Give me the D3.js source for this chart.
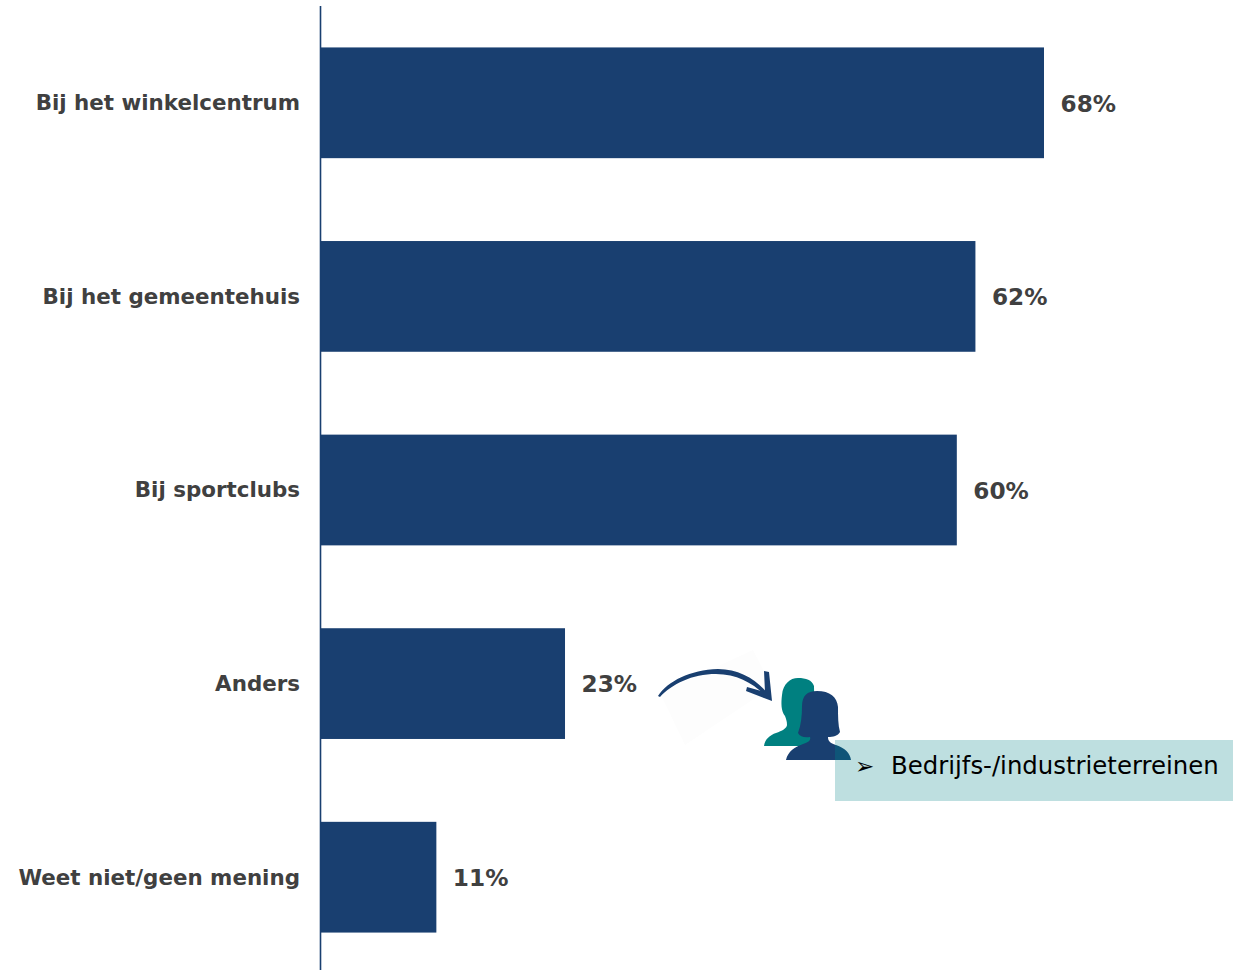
<!DOCTYPE html>
<html><head><meta charset="utf-8">
<script src="https://cdnjs.cloudflare.com/ajax/libs/d3/7.8.5/d3.min.js"></script>
<style>html,body{margin:0;padding:0;background:#fff}svg{display:block}text{font-family:"DejaVu Sans",Verdana,sans-serif}</style>
</head><body><div id="c"></div>
<script>
const categories=["Bij het winkelcentrum","Bij het gemeentehuis","Bij sportclubs","Anders","Weet niet/geen mening"];
const values=[68,61.55,59.8,22.95,10.85];
const valueLabels=["68%","62%","60%","23%","11%"];
const noteBullet="➢";
const noteText="Bedrijfs-/industrieterreinen";
const W=1233,H=970;
const navy="#193F70",grey="#404040";
const svg=d3.select("#c").append("svg").attr("width",W).attr("height",H);
const x=d3.scaleLinear().domain([0,68]).range([321,1044]);
const y=d3.scaleBand().domain(categories).range([6,974]).paddingInner(0.428).paddingOuter(0.214);
svg.selectAll("rect.bar").data(categories).join("rect").attr("class","bar")
 .attr("x",x(0)).attr("y",d=>y(d)).attr("height",y.bandwidth())
 .attr("width",(d,i)=>x(values[i])-x(0)).attr("fill",navy);
svg.append("line").attr("x1",320.5).attr("x2",320.5).attr("y1",6).attr("y2",970).attr("stroke",navy).attr("stroke-width",1.6);
svg.selectAll("text.cat").data(categories).join("text").attr("class","cat")
 .attr("x",300).attr("y",d=>y(d)+y.bandwidth()/2-0.4).attr("dy","0.36em").attr("text-anchor","end")
 .attr("font-size",21.4).attr("font-weight",700).attr("fill",grey).text(d=>d);
svg.selectAll("text.val").data(categories).join("text").attr("class","val")
 .attr("x",(d,i)=>x(values[i])+16.5).attr("y",d=>y(d)+y.bandwidth()/2+0.4).attr("dy","0.36em")
 .attr("font-size",23.2).attr("font-weight",700).attr("fill",grey).text((d,i)=>valueLabels[i]);
// decoration: faint image backing and hand drawn arrow
svg.append("path").attr("d","M660 693L753 650L772 687L685 745Z").attr("fill","#fdfdfd");
svg.append("path").attr("d","M658 696C668 681 690 670 718 669C740 669 757 680 769 695L767 697C754 684 738 674 716 674C692 674 672 684 660 697Z").attr("fill",navy);
svg.append("path").attr("d","M764 671L769 672L772 701L746 691L747 687L765 692Z").attr("fill",navy);
// decoration: people icon
const teal="M764 746C765 739 770 735 776 733C782 731 787 728 787 725C787 721 786 719 785 716C781 711 781 703 782 695C783 684 790 678 798 678C806 678 812 680 814 686L815 746Z";
const woman="M786 760C788 751 795 747 803 744C809 742 811 740 810 737C805 738 800 737 798 733C801 725 802 716 802 706C802 696 807 691 817 691C830 691 837 697 838 707C838 716 838 725 840 732C838 736 833 737 828 737C828 741 830 743 836 745C845 748 850 753 851 760Z";
svg.append("path").attr("d",teal).attr("fill","#008080");
svg.append("path").attr("d",woman).attr("fill",navy);
svg.append("rect").attr("x",835).attr("y",740).attr("width",398).attr("height",61).attr("fill","#BEDFE0");
svg.append("clipPath").attr("id","bx").append("rect").attr("x",835).attr("y",740).attr("width",398).attr("height",61);
svg.append("path").attr("d",woman).attr("fill","#0F5578").attr("clip-path","url(#bx)");
svg.append("text").attr("x",855).attr("y",774).attr("font-size",23).attr("fill","#000").text(noteBullet);
svg.append("text").attr("x",891).attr("y",774).attr("font-size",24.4).attr("fill","#000").text(noteText);
</script></body></html>
